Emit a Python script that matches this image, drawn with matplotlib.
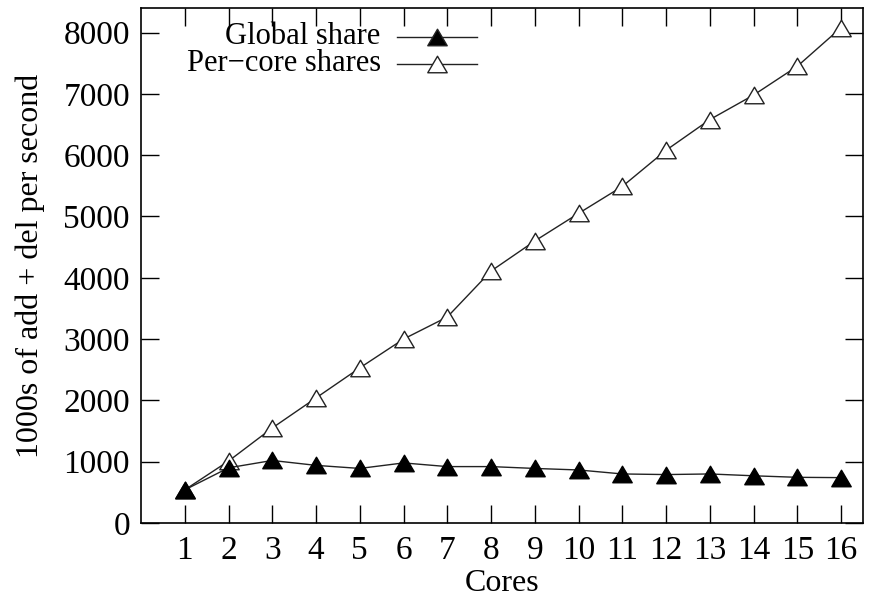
import matplotlib
matplotlib.use("Agg")
import matplotlib.pyplot as plt
from matplotlib.lines import Line2D
from matplotlib.path import Path

# --- Data ---
cores = list(range(1, 17))
global_share = [540, 900, 1020, 940, 890, 980, 920, 920, 890, 865, 800, 790, 800, 770, 745, 740]
per_core_shares = [540, 1010, 1550, 2040, 2530, 3000, 3360, 4110, 4600, 5050, 5490, 6080, 6580, 6980, 7450, 8080]
y_ticks = [0, 1000, 2000, 3000, 4000, 5000, 6000, 7000, 8000]

plt.rcParams['font.family'] = ['Liberation Serif', 'DejaVu Serif']
FS = 24

# flatter, gnuplot-like triangle
tri = Path([(0, 0.85), (-1, -0.85), (1, -0.85), (0, 0.85)],
           [Path.MOVETO, Path.LINETO, Path.LINETO, Path.CLOSEPOLY])

fig = plt.figure(figsize=(8.75, 6.01), dpi=100)
ax = fig.add_axes([141 / 875, 78 / 601, 722 / 875, 515 / 601])

line_kw = dict(color='#222222', linewidth=1.0, markersize=14, markeredgewidth=1.0)
ax.plot(cores, global_share, marker=tri, markerfacecolor='black',
        markeredgecolor='black', zorder=3, **line_kw)
ax.plot(cores, per_core_shares, marker=tri, markerfacecolor='white',
        markeredgecolor='#222222', zorder=2, **line_kw)

ax.set_xlim(0, 16.5)
ax.set_ylim(0, 8400)
ax.set_xticks(cores)
ax.set_yticks(y_ticks)
ax.tick_params(direction='in', length=13, width=1.0, top=True, right=True,
               pad=9, labelsize=FS)
ax.tick_params(axis='y', pad=8)
for s in ax.spines.values():
    s.set_linewidth(1.2)

ax.set_xlabel('Cores', fontsize=23, labelpad=2)
ax.set_ylabel('1000s of add + del per second', fontsize=23, labelpad=13)

# gnuplot-style key: right-aligned text, sample line to its right
key_rows = [("Global share", 'black', 0.944), ("Per\u2212core shares", 'white', 0.892)]
for label, face, ky in key_rows:
    ax.text(0.332, ky, label, transform=ax.transAxes, ha='right', va='center', fontsize=22)
    ax.add_line(Line2D([0.355, 0.466], [ky, ky], transform=ax.transAxes,
                       color='#222222', linewidth=1.0))
    ax.add_line(Line2D([0.41], [ky], transform=ax.transAxes, marker=tri,
                       markersize=14, markerfacecolor=face,
                       markeredgecolor='#222222', markeredgewidth=1.0))

fig.savefig('out.png', dpi=100)
